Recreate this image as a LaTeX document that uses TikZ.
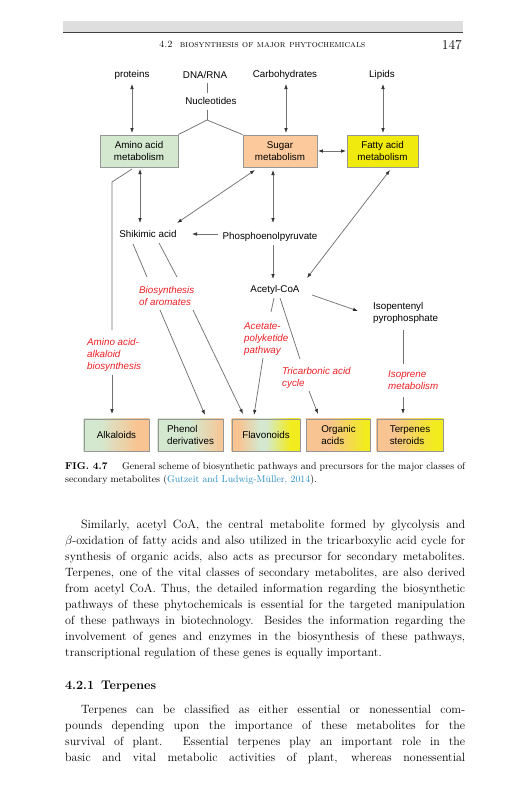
\documentclass[tikz,border=0pt]{standalone}
\usepackage{fontspec}
\usetikzlibrary{arrows.meta,backgrounds,calc}
\newfontfamily\dsans{Liberation Sans}
\newcommand\palfont{\rmfamily}
\newcommand\pjust[1]{\makebox[400pt][s]{#1}}
\newcommand\pjusti[1]{\makebox[384pt][s]{#1}}
\newcommand\gseg[5]{\fill[left color=#4,right color=#5] ($(#1.south west)!#2!(#1.south east)$) rectangle ($(#1.north west)!#3!(#1.north east)$);}
\definecolor{grn}{RGB}{212,232,207}
\definecolor{org}{RGB}{248,196,146}
\definecolor{ylw}{RGB}{242,235,30}
\definecolor{sugc}{RGB}{251,201,156}
\definecolor{fatc}{RGB}{241,234,14}
\definecolor{redl}{RGB}{237,30,36}
\definecolor{linec}{RGB}{115,115,115}
\definecolor{tipc}{RGB}{50,50,50}
\definecolor{boxb}{RGB}{150,150,150}
\definecolor{citec}{RGB}{35,140,195}
\begin{document}
\begin{tikzpicture}[x=1pt,y=-1pt,
  lbl/.style={inner sep=0pt, font=\dsans\fontsize{9.8}{12}\selectfont},
  rlbl/.style={inner sep=0pt, font=\dsans\itshape\fontsize{9.8}{12}\selectfont, text=redl, align=left, anchor=west},
  box/.style={draw=boxb, line width=0.8pt, minimum height=32pt, inner sep=1pt, align=center, font=\dsans\fontsize{9.8}{11.6}\selectfont},
  conn/.style={draw=linec, line width=0.75pt},
  arr/.style={conn, -{Latex[length=5pt,width=3.6pt,color=tipc]}},
  darr/.style={conn, {Latex[length=5pt,width=3.6pt,color=tipc]}-{Latex[length=5pt,width=3.6pt,color=tipc]}},
  body/.style={anchor=base west, inner sep=0pt, font=\palfont\fontsize{12}{16}\selectfont},
  captxt/.style={anchor=base west, inner sep=0pt, font=\palfont\fontsize{9.8}{12}\selectfont}]
\begin{scope}[on background layer]
  \fill[white] (0,0) rectangle (531,800);
\end{scope}
\useasboundingbox (0,0) rectangle (531,800);

% running head
\fill[black!13] (63,21) rectangle (463,32);
\draw[black!75, line width=1.3pt] (63,32.5) -- (463,32.5);
\node[anchor=base west, inner sep=0pt, font=\palfont\fontsize{9.5}{11}\selectfont] (hdr) at (159,48) {\textsc{4.2\ \ biosynthesis of major phytochemicals}};
\node[anchor=base east, inner sep=0pt, font=\palfont\fontsize{13.5}{15}\selectfont] (pg) at (462,49) {147};

% top labels
\node[lbl] (prot) at (132,75) {proteins};
\node[lbl] (dna) at (205,75) {DNA/RNA};
\node[lbl] (carb) at (285,75) {Carbohydrates};
\node[lbl] (lip) at (382,75) {Lipids};
\node[lbl] (nuc) at (211,101) {Nucleotides};

% metabolism boxes
\node[box, minimum width=78pt, fill=grn] (amino) at (139,151) {Amino acid\\metabolism};
\node[box, minimum width=74pt, fill=sugc] (sugar) at (280,151) {Sugar\\metabolism};
\node[box, minimum width=71pt, fill=fatc] (fatty) at (382.5,151) {Fatty acid\\metabolism};

% intermediates
\node[lbl] (shik) at (148,234) {Shikimic acid};
\node[lbl] (pep) at (270,237) {Phosphoenolpyruvate};
\node[lbl] (acet) at (275,290) {Acetyl-CoA};
\node[lbl, align=left, anchor=west] (ipp) at (373,313) {Isopentenyl\\pyrophosphate};

% pathway labels
\node[rlbl] (arom) at (139,296) {Biosynthesis\\of aromates};
\node[rlbl] (aab) at (87,355) {Amino acid-\\alkaloid\\biosynthesis};
\node[rlbl] (apk) at (244,339) {Acetate-\\polyketide\\pathway};
\node[rlbl] (tca) at (282,377.5) {Tricarbonic acid\\cycle};
\node[rlbl] (iso) at (388,380) {Isoprene\\metabolism};

% product boxes
\node[box, minimum width=65pt] (alk) at (116.5,435) {Alkaloids};
\node[box, minimum width=65pt, align=left] (phen) at (190.5,435) {Phenol\\derivatives};
\node[box, minimum width=68pt] (flav) at (266,435) {Flavonoids};
\node[box, minimum width=64pt, align=left] (orga) at (338.5,435) {Organic\\acids};
\node[box, minimum width=66pt, align=left] (terp) at (410,435) {Terpenes\\steroids};

\begin{scope}[on background layer]
  \gseg{alk}{0}{0.26}{grn}{grn}
  \gseg{alk}{0.25}{0.81}{grn}{org}
  \gseg{alk}{0.8}{1}{org}{org}
  \gseg{phen}{0}{0.51}{grn}{grn}
  \gseg{phen}{0.5}{1}{grn}{org}
  \gseg{flav}{0}{0.11}{org}{org}
  \gseg{flav}{0.1}{0.41}{org}{grn}
  \gseg{flav}{0.4}{0.51}{grn}{grn}
  \gseg{flav}{0.5}{0.86}{grn}{ylw}
  \gseg{flav}{0.85}{1}{ylw}{ylw}
  \gseg{orga}{0}{0.36}{org}{org}
  \gseg{orga}{0.35}{0.91}{org}{ylw}
  \gseg{orga}{0.9}{1}{ylw}{ylw}
  \gseg{terp}{0}{0.26}{org}{org}
  \gseg{terp}{0.25}{0.86}{org}{ylw}
  \gseg{terp}{0.85}{1}{ylw}{ylw}
\end{scope}

% connector end points
\coordinate (protA) at (132,84);  \coordinate (protB) at (132,133);
\coordinate (dnaA) at (207,83);   \coordinate (nucA) at (207,93);
\coordinate (nucB) at (207,110);  \coordinate (yj) at (207,120);
\coordinate (carbA) at (286,84);  \coordinate (carbB) at (286,133);
\coordinate (lipA) at (383,84);   \coordinate (lipB) at (383,133);
\coordinate (amS1) at (140,169);  \coordinate (shN1) at (140,223);
\coordinate (amS2) at (132,169);  \coordinate (bend) at (112,182);
\coordinate (aabN) at (112,330);  \coordinate (aabS) at (112,375);
\coordinate (alkN) at (112,414);
\coordinate (suS1) at (255,170);  \coordinate (shNE) at (177,223);
\coordinate (suS2) at (273,170);  \coordinate (pepN) at (273,223);
\coordinate (pepW) at (218,234);  \coordinate (shE) at (192,234);
\coordinate (faS) at (390,170);   \coordinate (acNE) at (307,278);
\coordinate (pepS) at (273,245);  \coordinate (acN) at (273,279);
\coordinate (acE) at (312,295);   \coordinate (ippW) at (358,311);
\coordinate (acS1) at (274,298);  \coordinate (apkN) at (271,312);
\coordinate (apkS) at (263,358);  \coordinate (flN2) at (254,415);
\coordinate (acS2) at (280,298);  \coordinate (tcaN) at (300,359);
\coordinate (tcaS) at (309,391);  \coordinate (orN) at (318,414);
\coordinate (shS1) at (133,244);  \coordinate (arN1) at (147,277);
\coordinate (shS2) at (159,243);  \coordinate (arN2) at (177,277);
\coordinate (arS1) at (160,310);  \coordinate (phN) at (205,415);
\coordinate (arS2) at (193,310);  \coordinate (flN1) at (243,414);
\coordinate (ippS) at (403,330);  \coordinate (isoN) at (403,364);
\coordinate (isoS) at (403,397);  \coordinate (teN) at (403,414);

% connectors
\draw[darr] (protA) -- (protB);
\draw[conn] (dnaA) -- (nucA);
\draw[conn] (nucB) -- (yj);
\draw[conn] (amino.north east) -- (yj) -- (sugar.north west);
\draw[darr] (carbA) -- (carbB);
\draw[darr] (lipA) -- (lipB);
\draw[darr, shorten <=0.5pt, shorten >=0.5pt] (sugar.east) -- (fatty.west);
\draw[darr] (amS1) -- (shN1);
\draw[conn] (amS2) -- (bend) -- (aabN);
\draw[arr] (aabS) -- (alkN);
\draw[darr] (suS1) -- (shNE);
\draw[darr] (suS2) -- (pepN);
\draw[arr] (pepW) -- (shE);
\draw[darr] (faS) -- (acNE);
\draw[arr] (pepS) -- (acN);
\draw[arr] (acE) -- (ippW);
\draw[conn] (acS1) -- (apkN);
\draw[arr] (apkS) -- (flN2);
\draw[conn] (acS2) -- (tcaN);
\draw[arr] (tcaS) -- (orN);
\draw[conn] (shS1) -- (arN1);
\draw[conn] (shS2) -- (arN2);
\draw[arr] (arS1) -- (phN);
\draw[arr] (arS2) -- (flN1);
\draw[conn] (ippS) -- (isoN);
\draw[arr] (isoS) -- (teN);

% caption
\node[captxt, font=\palfont\bfseries\fontsize{10}{12}\selectfont] (fig) at (65,469) {FIG. 4.7};
\node[captxt] (cap1) at (122,469) {\makebox[343pt][s]{General scheme of biosynthetic pathways and precursors for the major classes of}};
\node[captxt] (cap2) at (65,482.5) {secondary metabolites (\textcolor{citec}{Gutzeit and Ludwig-M\"uller, 2014}).};

% body text
\node[body] (b1) at (81,528) {\pjusti{Similarly, acetyl CoA, the central metabolite formed by glycolysis and}};
\node[body] (b2) at (65,544) {\pjust{$\beta$-oxidation of fatty acids and also utilized in the tricarboxylic acid cycle for}};
\node[body] (b3) at (65,560) {\pjust{synthesis of organic acids, also acts as precursor for secondary metabolites.}};
\node[body] (b4) at (65,576) {\pjust{Terpenes, one of the vital classes of secondary metabolites, are also derived}};
\node[body] (b5) at (65,592) {\pjust{from acetyl CoA. Thus, the detailed information regarding the biosynthetic}};
\node[body] (b6) at (65,608) {\pjust{pathways of these phytochemicals is essential for the targeted manipulation}};
\node[body] (b7) at (65,624) {\pjust{of these pathways in biotechnology. Besides the information regarding the}};
\node[body] (b8) at (65,640) {\pjust{involvement of genes and enzymes in the biosynthesis of these pathways,}};
\node[body] (b9) at (65,656) {transcriptional regulation of these genes is equally important.};

\node[body, font=\palfont\bfseries\fontsize{12.5}{15}\selectfont] (h421) at (65,689.5) {4.2.1\hspace{0.55em}Terpenes};

\node[body] (t1) at (81,713) {\pjusti{Terpenes can be classified as either essential or nonessential com-}};
\node[body] (t2) at (65,729) {\pjust{pounds depending upon the importance of these metabolites for the}};
\node[body] (t3) at (65,745) {\pjust{survival of plant. Essential terpenes play an important role in the}};
\node[body] (t4) at (65,761) {\pjust{basic and vital metabolic activities of plant, whereas nonessential}};
\end{tikzpicture}
\end{document}
